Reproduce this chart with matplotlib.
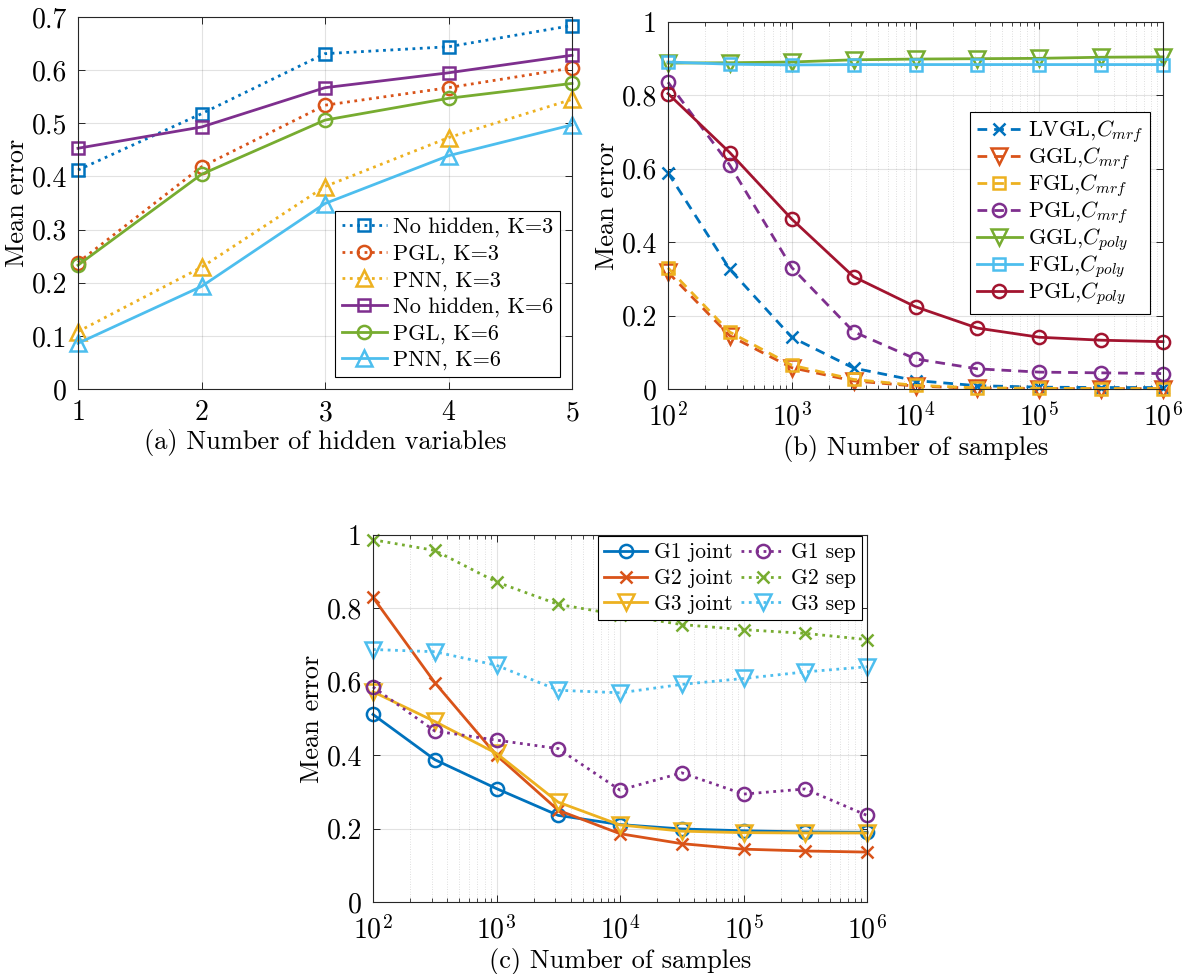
import matplotlib
matplotlib.use('Agg')
import matplotlib.pyplot as plt
import numpy as np
from matplotlib.ticker import LogLocator, NullFormatter

plt.rcParams['font.family'] = ['cmr10', 'DejaVu Serif']
plt.rcParams['mathtext.fontset'] = 'cm'
plt.rcParams['axes.formatter.use_mathtext'] = True

# matlab default colours
C_BLUE = '#0072BD'
C_ORANGE = '#D95319'
C_YELLOW = '#EDB120'
C_PURPLE = '#7E2F8E'
C_GREEN = '#77AC30'
C_LBLUE = '#4DBEEE'
C_RED = '#A2142F'

# (a) hidden variables
n_hidden = [1, 2, 3, 4, 5]
nohid_k3 = [0.412, 0.518, 0.631, 0.644, 0.684]
pgl_k3 = [0.238, 0.418, 0.534, 0.567, 0.604]
pnn_k3 = [0.108, 0.229, 0.381, 0.473, 0.545]
nohid_k6 = [0.453, 0.493, 0.567, 0.595, 0.628]
pgl_k6 = [0.233, 0.404, 0.506, 0.547, 0.575]
pnn_k6 = [0.086, 0.193, 0.349, 0.439, 0.497]

# (b) number of samples
samples = [100, 316, 1000, 3162, 10000, 31623, 100000, 316228, 1000000]
lvgl_mrf = [0.589, 0.326, 0.141, 0.057, 0.023, 0.009, 0.005, 0.004, 0.004]
ggl_mrf = [0.318, 0.145, 0.058, 0.022, 0.008, 0.002, 0.001, 0.001, 0.001]
fgl_mrf = [0.330, 0.155, 0.065, 0.026, 0.010, 0.003, 0.002, 0.001, 0.001]
pgl_mrf = [0.836, 0.610, 0.331, 0.156, 0.082, 0.055, 0.046, 0.044, 0.042]
ggl_poly = [0.888, 0.889, 0.891, 0.897, 0.899, 0.900, 0.901, 0.904, 0.905]
fgl_poly = [0.891, 0.885, 0.883, 0.884, 0.884, 0.884, 0.884, 0.884, 0.884]
pgl_poly = [0.805, 0.644, 0.463, 0.306, 0.224, 0.166, 0.141, 0.133, 0.129]

# (c) joint vs separate
g1_joint = [0.511, 0.388, 0.309, 0.236, 0.211, 0.199, 0.194, 0.191, 0.190]
g2_joint = [0.830, 0.598, 0.400, 0.250, 0.186, 0.159, 0.144, 0.139, 0.136]
g3_joint = [0.573, 0.492, 0.405, 0.272, 0.210, 0.193, 0.189, 0.188, 0.188]
g1_sep = [0.586, 0.466, 0.441, 0.418, 0.305, 0.352, 0.294, 0.308, 0.236]
g2_sep = [0.987, 0.958, 0.872, 0.811, 0.782, 0.756, 0.742, 0.732, 0.715]
g3_sep = [0.688, 0.682, 0.645, 0.577, 0.570, 0.593, 0.609, 0.627, 0.641]

W, H = 1184, 974
fig = plt.figure(figsize=(W / 100, H / 100), dpi=100)


def box(l, t, r, b):
    return [l / W, 1 - b / H, (r - l) / W, (b - t) / H]


FS_TICK = 20
FS_LAB = 19
FS_LEG = 16
LW = 2.0
MS = 9.5
MEW = 1.8
DASH = (0, (3.5, 2.5))


def style_axes(ax, log=False):
    ax.tick_params(which='both', direction='in', top=True, right=True,
                   labelsize=FS_TICK, colors='#262626', labelcolor='black')
    ax.tick_params(which='major', length=5, width=0.7, pad=8)
    ax.tick_params(which='minor', length=3, width=0.6)
    for s in ax.spines.values():
        s.set_color('#262626')
        s.set_linewidth(0.8)
    ax.grid(True, which='major', color='#262626', alpha=0.13, linewidth=0.8)
    if log:
        ax.tick_params(axis='x', which='major', pad=10)
        ax.xaxis.set_minor_locator(LogLocator(base=10, subs=np.arange(2, 10)))
        ax.xaxis.set_minor_formatter(NullFormatter())
        ax.grid(True, which='minor', axis='x', color='#262626', alpha=0.2,
                linewidth=0.6, linestyle=(0, (1, 2)))
    ax.set_axisbelow(True)


def line(ax, x, y, c, ls, m, label, ms=MS):
    ax.plot(x, y, color=c, linestyle=ls, marker=m, mfc='none', mec=c,
            ms=ms, mew=MEW, lw=LW, label=label, clip_on=False)


def legend(ax, loc, anchor, ncol=1, spacing=0.25, fs=FS_LEG):
    lg = ax.legend(loc=loc, bbox_to_anchor=anchor, borderaxespad=0, ncol=ncol,
                   fontsize=fs, frameon=True, fancybox=False, edgecolor='black',
                   framealpha=1, handlelength=2.0, labelspacing=spacing,
                   columnspacing=0.4, borderpad=0.3, handletextpad=0.3)
    lg.get_frame().set_linewidth(0.8)
    lg.set_zorder(10)
    return lg


# ---- (a)
ax1 = fig.add_axes(box(78, 17, 572, 389))
line(ax1, n_hidden, nohid_k3, C_BLUE, ':', 's', 'No hidden, K=3', ms=8)
line(ax1, n_hidden, pgl_k3, C_ORANGE, ':', 'o', 'PGL, K=3')
line(ax1, n_hidden, pnn_k3, C_YELLOW, ':', '^', 'PNN, K=3', ms=11)
line(ax1, n_hidden, nohid_k6, C_PURPLE, '-', 's', 'No hidden, K=6', ms=8)
line(ax1, n_hidden, pgl_k6, C_GREEN, '-', 'o', 'PGL, K=6')
line(ax1, n_hidden, pnn_k6, C_LBLUE, '-', '^', 'PNN, K=6', ms=11)
ax1.set_xlim(1, 5)
ax1.set_ylim(0, 0.7)
ax1.set_xticks(n_hidden)
ax1.set_yticks([0, 0.1, 0.2, 0.3, 0.4, 0.5, 0.6, 0.7])
ax1.set_yticklabels(['0', '0.1', '0.2', '0.3', '0.4', '0.5', '0.6', '0.7'])
style_axes(ax1)
ax1.set_xlabel('(a) Number of hidden variables', fontsize=FS_LAB, labelpad=2)
ax1.set_ylabel('Mean error', fontsize=FS_LAB, labelpad=2)
legend(ax1, 'lower right', (0.976, 0.032), spacing=0.3)

# ---- (b)
ax2 = fig.add_axes(box(668, 22, 1163, 389))
line(ax2, samples, lvgl_mrf, C_BLUE, DASH, 'x', 'LVGL,$C_{mrf}$', ms=8)
line(ax2, samples, ggl_mrf, C_ORANGE, DASH, 'v', 'GGL,$C_{mrf}$', ms=11)
line(ax2, samples, fgl_mrf, C_YELLOW, DASH, 's', 'FGL,$C_{mrf}$', ms=8)
line(ax2, samples, pgl_mrf, C_PURPLE, DASH, 'o', 'PGL,$C_{mrf}$')
line(ax2, samples, ggl_poly, C_GREEN, '-', 'v', 'GGL,$C_{poly}$', ms=11)
line(ax2, samples, fgl_poly, C_LBLUE, '-', 's', 'FGL,$C_{poly}$', ms=8)
line(ax2, samples, pgl_poly, C_RED, '-', 'o', 'PGL,$C_{poly}$')
ax2.set_xscale('log')
ax2.set_xlim(1e2, 1e6)
ax2.set_ylim(0, 1)
ax2.set_yticks([0, 0.2, 0.4, 0.6, 0.8, 1])
ax2.set_yticklabels(['0', '0.2', '0.4', '0.6', '0.8', '1'])
style_axes(ax2, log=True)
ax2.set_xlabel('(b) Number of samples', fontsize=FS_LAB, labelpad=2)
ax2.set_ylabel('Mean error', fontsize=FS_LAB, labelpad=2)
legend(ax2, 'upper right', (0.974, 0.756), spacing=0.0)

# ---- (c)
ax3 = fig.add_axes(box(373, 535, 867, 902))
line(ax3, samples, g1_joint, C_BLUE, '-', 'o', 'G1 joint')
line(ax3, samples, g2_joint, C_ORANGE, '-', 'x', 'G2 joint', ms=8)
line(ax3, samples, g3_joint, C_YELLOW, '-', 'v', 'G3 joint', ms=11)
line(ax3, samples, g1_sep, C_PURPLE, ':', 'o', 'G1 sep')
line(ax3, samples, g2_sep, C_GREEN, ':', 'x', 'G2 sep', ms=8)
line(ax3, samples, g3_sep, C_LBLUE, ':', 'v', 'G3 sep', ms=11)
ax3.set_xscale('log')
ax3.set_xlim(1e2, 1e6)
ax3.set_ylim(0, 1)
ax3.set_yticks([0, 0.2, 0.4, 0.6, 0.8, 1])
ax3.set_yticklabels(['0', '0.2', '0.4', '0.6', '0.8', '1'])
style_axes(ax3, log=True)
ax3.set_xlabel('(c) Number of samples', fontsize=FS_LAB, labelpad=2)
ax3.set_ylabel('Mean error', fontsize=FS_LAB, labelpad=2)
legend(ax3, 'upper right', (0.99, 0.997), ncol=2, spacing=0.3, fs=15.5)

fig.savefig('out.png', dpi=100)
